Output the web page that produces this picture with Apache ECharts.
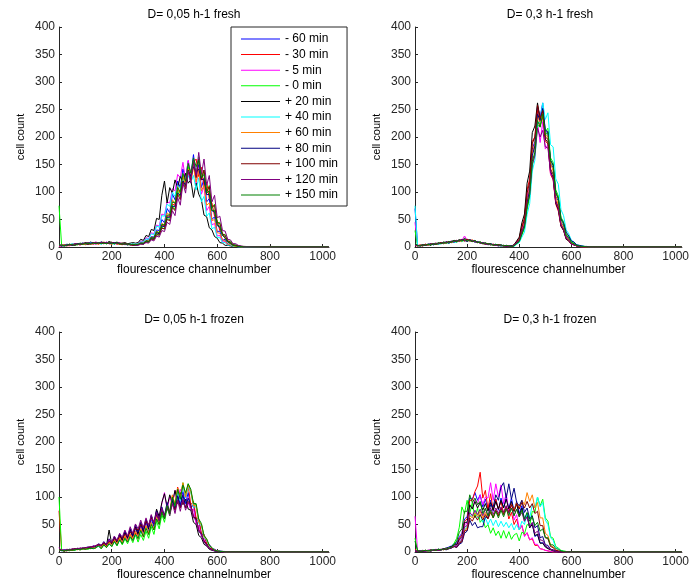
<!DOCTYPE html>
<html>
<head>
<meta charset="utf-8">
<script src="https://cdn.jsdelivr.net/npm/echarts@6/dist/echarts.min.js"></script>
<style>html,body{margin:0;padding:0;background:#fff}#c{width:692px;height:582px}</style>
</head>
<body>
<div id="c"></div>
<script>
// fluorescence channel numbers at which values were read
const channels = [0,10,20,30,40,50,60,70,80,90,100,110,120,130,140,150,160,170,180,190,200,210,220,230,240,250,260,270,280,290,300,310,320,330,340,350,360,370,380,390,400,410,420,430,440,450,460,470,480,490,500,510,520,530,540,550,560,570,580,590,600,610,620,630,640,650,660,670,680,690,700,800,900,1023];

const seriesNames = ['- 60 min','- 30 min','- 5 min','- 0 min','+ 20 min','+ 40 min','+ 60 min','+ 80 min','+ 100 min','+ 120 min','+ 150 min'];
const seriesColors = ['#0000ff','#ff0000','#ff00ff','#00ff00','#000000','#00ffff','#ff8000','#000080','#800000','#800080','#008000'];
const panelTitles = ['D= 0,05 h-1 fresh','D= 0,3 h-1 fresh','D= 0,05 h-1 frozen','D= 0,3 h-1 frozen'];
const yTicks = [0,50,100,150,200,250,300,350,400];
const xTicks = [0,200,400,600,800,1000];

// ---- D = 0,05 h-1 fresh ----
const f005_m60 = [2,3,2,4,3,5,4,5,6,5, 7,6,8,6,7,8,6,7,8,6, 7,6,8,6,5,6,5,4,5,4, 6,9,7,12,13,19,18,31,30,50, 44,70,62,96,86,120,108,142,124,156, 130,168,128,150,108,124,82,88,50,55, 28,29,12,14,5,6,2,3,1,1, 0, 0,0,0];
const f005_m30 = [3,2,4,3,5,4,6,5,4,6, 5,7,6,5,8,7,6,9,7,6, 8,7,5,6,7,5,4,5,3,4, 5,7,6,11,9,17,16,27,24,40, 38,56,56,78,76,104,98,128,118,146, 136,154,160,128,145,110,118,88,80,56, 48,30,25,15,12,7,5,2,2,1, 0, 1,0,0];
const f005_m5 = [1,2,3,2,4,3,4,5,4,6, 5,6,7,6,5,7,8,6,7,9, 6,7,6,5,6,4,5,4,3,4, 7,11,10,17,15,26,24,40,38,60, 58,82,80,106,102,132,126,154,122,158, 132,156,114,144,96,110,66,74,40,43, 20,21,9,10,3,4,1,2,0,1, 0, 0,0,0];
const f005_m0 = [75,3,2,3,4,3,5,4,6,5, 6,5,7,6,7,6,8,7,6,7, 8,6,7,5,6,5,4,5,4,3, 4,6,5,10,8,15,13,24,21,37, 32,54,48,76,68,102,90,126,110,146, 122,158,130,164,124,140,100,112,70,78, 44,45,22,23,10,11,4,4,2,1, 1, 0,0,0];
const f005_p20 = [4,2,3,5,4,3,6,5,7,6, 8,7,9,7,8,6,9,8,7,10, 8,7,9,6,7,8,6,7,8,7, 8,14,12,21,19,32,30,52,50,94, 120,80,108,98,122,108,128,118,134,116, 122,90,116,96,86,58,55,35,31,19, 16,8,7,3,3,2,1,1,0,0, 0, 0,0,0];
const f005_p40 = [3,4,3,5,4,6,5,4,6,7, 5,6,8,7,6,7,5,8,6,7, 6,5,7,6,5,6,4,5,6,5, 6,9,9,15,14,24,22,38,36,57, 56,78,74,100,92,112,106,124,114,130, 118,130,104,126,82,92,56,62,33,36, 17,17,8,8,3,4,1,1,0,0, 0, 0,0,0];
const f005_p60 = [2,3,4,3,2,4,5,4,5,6, 4,6,5,7,6,5,7,6,8,6, 5,7,6,5,4,6,5,4,5,4, 5,7,7,12,11,18,17,29,26,43, 40,62,58,86,78,110,96,130,112,142, 118,146,118,140,102,112,76,80,48,50, 26,25,13,11,5,5,2,1,1,0, 0, 0,0,0];
const f005_p80 = [3,2,3,4,5,3,4,6,5,7, 6,5,7,8,6,7,9,7,8,6, 7,8,6,7,5,6,4,5,4,3, 4,7,6,11,10,16,16,26,24,38, 37,54,54,74,74,98,94,120,112,140, 128,146,136,142,122,124,95,96,66,64, 39,36,21,17,9,7,3,3,1,1, 0, 0,0,0];
const f005_p100 = [2,4,3,2,4,5,3,5,4,6, 7,5,6,8,7,6,7,8,6,7, 9,6,7,6,5,7,5,4,3,4, 4,6,5,9,9,14,14,22,22,34, 33,50,48,72,66,96,86,118,106,140, 122,156,126,160,122,140,100,110,72,76, 44,43,24,21,11,9,4,3,2,1, 1, 0,0,0];
const f005_p120 = [3,3,2,4,3,4,6,5,5,7, 6,8,6,7,9,7,8,6,9,7, 8,6,7,8,6,5,6,4,5,3, 3,5,5,8,7,13,11,20,18,30, 28,45,41,66,57,90,76,116,98,138, 116,158,130,172,132,160,112,130,82,94, 53,56,30,29,14,13,6,6,3,2, 1, 0,0,0];
const f005_p150 = [4,3,2,3,5,4,3,5,6,5, 6,7,5,7,6,8,6,7,6,8, 7,6,8,5,6,5,6,4,5,4, 5,7,7,11,10,17,16,28,26,41, 40,58,58,82,80,108,100,134,120,152, 134,162,146,158,126,132,98,102,66,67, 40,38,21,17,9,7,3,2,1,1, 0, 0,0,0];

// ---- D = 0,3 h-1 fresh ----
const f03_m60 = [70,3,2,4,3,5,4,6,5,7, 6,8,7,10,8,11,9,12,10,14, 11,13,10,12,8,9,6,7,4,6, 3,5,2,4,2,3,1,2, 3,8,11,31,41,88,110,178,192,255, 236,262,210,208,152,144,92,84,45,39, 20,15,7,6,3,2,1,1,0,0, 0,0,0, 0,0,0];
const f03_m30 = [4,2,3,2,5,3,6,4,7,5, 8,6,9,7,10,9,12,10,13,11, 14,10,12,9,10,7,8,5,6,4, 5,3,4,2,3,2,2,1, 4,10,16,38,53,104,124,192,200,248, 220,236,192,188,132,122,78,65,38,30, 15,11,5,4,2,1,1,0,0,0, 0,0,0, 0,0,0];
const f03_m5 = [45,3,4,3,4,5,4,6,5,7, 6,7,9,8,10,9,11,13,12,20, 13,11,12,10,9,8,6,7,5,4, 5,3,4,3,2,3,2,1, 3,9,13,33,45,92,108,172,180,226, 190,228,178,186,132,128,80,74,40,33, 16,13,5,5,2,1,0,0,0,0, 0,0,0, 0,0,0];
const f03_m0 = [30,2,3,4,3,5,4,5,6,5, 7,6,8,7,9,10,9,11,10,12, 11,12,10,11,8,9,7,6,5,4, 4,3,3,2,3,2,1,2, 2,6,9,22,34,68,92,148,170,222, 218,246,210,216,162,154,104,93,54,46, 24,19,9,7,3,2,1,1,0,0, 0,0,0, 0,0,0];
const f03_p20 = [5,2,3,2,4,5,3,6,5,6, 8,7,9,8,10,12,11,13,11,16, 12,13,11,10,9,8,7,6,6,5, 4,3,4,3,2,2,1,2, 4,11,18,44,60,116,138,208,220,262, 232,248,196,190,138,126,80,68,38,30, 14,11,5,4,2,1,0,0,0,0, 0,0,0, 0,0,0];
const f03_p40 = [75,2,3,3,4,3,5,4,6,5, 6,7,8,7,9,8,10,11,10,13, 12,11,12,9,10,8,7,5,6,4, 4,3,3,2,2,2,1,1, 1,5,8,18,27,59,79,138,158,226, 226,262,232,244,186,182,124,114,68,57, 31,24,12,9,4,3,2,1,1,0, 0,0,0, 0,0,0];
const f03_p60 = [3,2,4,3,4,3,5,6,5,7, 6,8,7,9,8,10,12,10,11,13, 12,11,13,10,9,8,6,7,5,5, 3,4,3,3,2,2,2,1, 2,7,12,28,43,83,108,170,190,238, 228,244,204,200,152,138,92,76,45,34, 19,13,6,5,2,1,0,0,0,0, 0,0,0, 0,0,0];
const f03_p80 = [4,3,2,4,3,5,6,4,6,7, 6,8,9,7,10,9,12,11,14,12, 10,13,11,9,10,7,8,6,5,6, 4,4,3,2,3,1,2,2, 2,7,11,27,40,80,103,166,184,242, 230,252,212,210,158,150,100,88,52,44, 27,20,11,9,4,3,2,1,1,0, 0,0,0, 0,0,0];
const f03_p100 = [2,3,2,3,5,4,5,6,5,6, 8,7,8,10,9,11,10,12,13,11, 14,12,10,11,8,9,6,5,6,4, 5,3,4,3,2,2,1,1, 3,9,14,35,50,98,118,188,200,258, 234,248,200,196,142,132,84,72,40,32, 16,12,5,4,2,1,0,0,0,0, 0,0,0, 0,0,0];
const f03_p120 = [3,2,3,4,3,4,5,6,7,6, 7,9,8,9,11,10,12,11,13,12, 11,13,12,10,9,7,8,6,4,5, 4,3,2,3,2,2,1,1, 3,8,11,26,38,76,96,150,166,216, 200,212,182,180,136,124,82,70,40,32, 16,12,5,4,2,1,0,0,0,0, 0,0,0, 0,0,0];
const f03_p150 = [6,3,2,4,3,5,4,6,5,8, 6,9,7,10,9,12,10,13,11,14, 11,13,10,12,8,9,6,8,5,6, 3,5,3,4,2,3,2,1, 2,6,10,23,36,72,95,156,172,230, 218,242,204,208,156,148,98,88,50,42, 21,17,8,6,3,2,1,1,0,0, 0,0,0, 0,0,0];

// ---- D = 0,05 h-1 frozen ----
const z005_m60 = [5,3,2,4,3,5,4,6,5,7, 6,8,7,10,9,14,9,17,12,21, 14,25,17,30,20,34,23,38,26,43, 30,48,34,54,38,60,46,68,54,76, 62,84,70,96,78,104,86,110,88,108, 80,86,58,58,32,32,14,14,6,5, 2,2,1,1,0,0,0,0,0,0, 0, 0,0,0];
const z005_m30 = [75,2,3,2,4,3,4,5,4,6, 5,7,6,8,7,12,7,14,9,18, 11,21,13,25,15,28,18,33,21,35, 23,40,27,46,32,52,40,62,50,74, 60,86,72,102,86,118,98,124,100,120, 86,92,62,60,34,32,15,13,5,4, 2,1,1,0,0,0,0,0,0,0, 0, 0,0,0];
const z005_m5 = [8,2,4,3,5,4,6,5,7,6, 8,7,9,11,10,15,10,18,13,22, 15,27,18,31,21,36,24,40,28,46, 32,50,36,56,42,62,52,76,64,88, 108,78,100,86,112,98,114,100,108,90, 76,78,50,48,28,24,11,10,4,3, 2,1,0,0,0,0,0,0,0,0, 0, 0,0,0];
const z005_m0 = [100,3,2,3,2,4,3,5,4,5, 6,5,7,6,8,11,6,13,8,15, 10,19,11,22,13,24,15,27,17,31, 18,32,21,38,25,46,32,56,42,68, 54,80,66,98,80,114,96,126,102,124, 110,88,86,56,50,28,22,11,8,3, 2,1,1,0,0,0,0,0,0,0, 0, 0,0,0];
const z005_p20 = [6,3,2,4,3,5,4,6,5,7, 6,8,7,10,9,14,9,16,11,40, 15,27,18,32,21,36,25,41,28,46, 32,52,37,58,42,66,52,78,64,90, 106,82,104,90,112,88,108,86,96,78, 76,54,50,30,26,14,11,5,3,2, 1,1,0,0,0,0,0,0,0,0, 0, 0,0,0];
const z005_p40 = [4,2,3,4,3,5,4,5,6,5, 7,6,8,7,9,10,9,12,10,14, 12,17,14,20,17,24,19,27,22,31, 25,37,30,44,36,52,42,62,52,74, 62,86,74,100,84,110,94,120,98,118, 108,82,82,52,48,26,22,10,8,3, 2,1,1,0,0,0,0,0,0,0, 0, 0,0,0];
const z005_p60 = [3,4,2,3,4,3,5,4,6,5, 7,6,8,9,8,13,8,15,10,18, 12,22,15,26,17,30,20,33,24,38, 27,43,30,48,35,54,42,64,52,76, 64,88,74,104,86,116,98,126,100,122, 110,84,84,54,50,28,23,11,8,3, 2,1,1,0,0,0,0,0,0,0, 0, 0,0,0];
const z005_p80 = [4,3,4,2,5,4,6,5,7,6, 8,9,8,11,10,15,12,19,13,24, 17,28,20,33,24,38,27,43,30,50, 36,54,40,60,45,66,50,74,58,82, 66,90,70,98,76,102,82,104,80,98, 84,64,60,38,32,18,13,7,4,2, 1,1,0,0,0,0,0,0,0,0, 0, 0,0,0];
const z005_p100 = [5,3,2,4,3,5,6,5,7,6, 8,7,10,9,12,13,12,15,14,19, 17,24,21,28,25,32,29,36,34,43, 40,50,45,56,50,62,54,68,60,74, 66,80,70,88,76,94,80,94,80,92, 86,64,62,40,34,20,15,7,5,3, 1,1,0,0,0,0,0,0,0,0, 0, 0,0,0];
const z005_p120 = [6,4,3,5,4,6,5,7,6,8, 7,9,10,9,12,13,12,18,13,23, 18,29,21,34,27,40,29,46,34,51, 42,58,44,62,48,68,52,72,56,80, 62,84,66,88,70,94,74,96,76,90, 82,62,58,38,32,18,13,6,4,2, 1,1,0,0,0,0,0,0,0,0, 0, 0,0,0];
const z005_p150 = [4,3,2,3,4,3,4,5,4,6, 5,6,7,6,8,11,6,13,8,15, 10,19,12,22,15,25,18,28,21,32, 25,39,28,43,32,50,40,60,50,72, 60,84,70,100,84,114,96,122,108,124, 114,88,88,60,52,30,24,12,8,3, 2,1,1,0,0,0,0,0,0,0, 0, 0,0,0];

// ---- D = 0,3 h-1 frozen ----
const z03_m60 = [0,2,1,2,3,2,3,4,3,5, 4,6,7,9,11,15,16,28,34,60, 64,98,96,108,94,104,82,96,78,94, 74,96,76,98,80,100,78,98,74,92, 70,84,60,70,44,52,28,32,16,17, 10,7,5,3,2,1,1,0,0,0, 0,0,0,0,0,0,0,0,0,0, 0, 0,0,0];
const z03_m30 = [5,1,2,3,2,3,2,4,3,4, 5,4,6,7,9,13,13,25,31,56, 60,94,94,110,120,145,98,112,78,106, 76,96,78,92,70,84,60,72,50,60, 40,48,30,35,22,24,12,12,6,5, 3,2,1,0,0,0,0,0,0,0, 0,0,0,0,0,0,0,0,0,0, 0, 0,0,0];
const z03_m5 = [65,2,1,3,2,3,4,3,5,4, 5,6,5,7,9,12,12,21,26,50, 52,84,80,96,88,104,86,100,98,126, 94,124,100,122,88,106,74,88,58,68, 42,48,28,35,22,26,14,14,6,5, 3,2,1,0,0,0,0,0,0,0, 0,0,0,0,0,0,0,0,0,0, 0, 0,0,0];
const z03_m0 = [25,1,2,1,3,2,2,3,4,3, 4,5,6,7,8,16,25,45,82,70, 94,70,90,62,80,54,60,44,50,34, 44,30,38,25,39,25,37,23,31,34, 20,36,33,50,48,74,72,100,84,96, 62,56,28,25,10,7,3,2,1,0, 0,0,0,0,0,0,0,0,0,0, 0, 0,0,0];
const z03_p20 = [3,1,2,2,3,2,4,3,4,5, 4,6,7,8,10,13,13,23,28,54, 54,86,78,92,80,90,76,88,74,90, 76,92,78,94,80,96,78,92,74,88, 66,80,56,66,44,50,30,32,16,16, 9,6,4,2,1,0,0,0,0,0, 0,0,0,0,0,0,0,0,0,0, 0, 0,0,0];
const z03_p40 = [2,1,2,3,2,3,2,4,3,4, 5,4,6,7,8,11,10,17,22,42, 46,68,64,74,62,68,54,62,50,60, 48,58,46,56,46,54,44,52,40,50, 40,56,50,70,62,86,80,100,82,90, 58,50,26,21,8,6,2,1,0,0, 0,0,0,0,0,0,0,0,0,0, 0, 0,0,0];
const z03_p60 = [1,2,1,2,3,2,3,3,4,3, 5,4,6,7,8,10,9,16,21,40, 44,66,62,72,64,74,62,72,62,74, 64,76,66,80,70,82,72,86,76,90, 80,94,86,108,92,104,80,90,62,62, 34,30,12,9,3,2,1,0,0,0, 0,0,0,0,0,0,0,0,0,0, 0, 0,0,0];
const z03_p80 = [2,1,2,1,2,3,2,3,4,3, 4,5,4,6,7,10,8,14,17,34, 38,58,48,54,44,46,46,64,62,86, 82,104,94,118,126,98,124,96,116,90, 84,94,72,80,60,66,44,48,26,28, 13,12,5,4,2,1,0,0,0,0, 0,0,0,0,0,0,0,0,0,0, 0, 0,0,0];
const z03_p100 = [1,2,1,2,2,3,2,3,3,4, 4,5,5,6,8,10,9,16,19,38, 40,62,56,66,58,68,58,68,60,72, 62,76,66,80,68,82,72,86,74,88, 78,90,80,92,80,88,70,74,48,48, 26,24,10,8,3,2,1,0,0,0, 0,0,0,0,0,0,0,0,0,0, 0, 0,0,0];
const z03_p120 = [2,1,2,2,1,3,2,3,4,3, 4,5,6,6,8,11,10,18,22,46, 48,72,66,76,68,78,66,78,66,80, 68,80,70,82,72,84,70,80,66,78, 64,72,56,64,46,54,34,38,22,21, 12,8,5,3,1,0,0,0,0,0, 0,0,0,0,0,0,0,0,0,0, 0, 0,0,0];
const z03_p150 = [20,2,1,2,3,2,3,4,3,5, 4,6,5,7,9,13,20,36,42,74, 74,104,90,98,86,92,70,80,66,76, 62,74,62,76,64,78,66,80,66,78, 64,76,60,72,56,64,48,54,38,42, 26,26,13,13,6,5,2,1,0,0, 0,0,0,0,0,0,0,0,0,0, 0, 0,0,0];

const panel1 = [f005_m60,f005_m30,f005_m5,f005_m0,f005_p20,f005_p40,f005_p60,f005_p80,f005_p100,f005_p120,f005_p150];
const panel2 = [f03_m60,f03_m30,f03_m5,f03_m0,f03_p20,f03_p40,f03_p60,f03_p80,f03_p100,f03_p120,f03_p150];
const panel3 = [z005_m60,z005_m30,z005_m5,z005_m0,z005_p20,z005_p40,z005_p60,z005_p80,z005_p100,z005_p120,z005_p150];
const panel4 = [z03_m60,z03_m30,z03_m5,z03_m0,z03_p20,z03_p40,z03_p60,z03_p80,z03_p100,z03_p120,z03_p150];
const panels = [panel1, panel2, panel3, panel4];

// ---- layout ----
const FONT = 'Liberation Sans, Arial, sans-serif';
const AX = '#262626';
const grids = [
  {left: 59, top: 27, width: 270, height: 220},
  {left: 415, top: 27, width: 270, height: 220},
  {left: 59, top: 332, width: 270, height: 220},
  {left: 415, top: 332, width: 270, height: 220}
];
const titleTops = [9, 9, 314, 314];

panels.forEach((p, pi) => p.forEach((arr, si) => {
  if (arr.length !== channels.length) console.error('length mismatch panel', pi, 'series', si, arr.length);
}));

const LEGEND_LINE = 'path://M0,0 L0,0 M0,14 L0,14 M0,6.5 L39,6.5 L39,7.5 L0,7.5 Z';

const option = {
  animation: false,
  backgroundColor: '#ffffff',
  textStyle: {fontFamily: FONT},
  title: panelTitles.map((t, i) => ({
    text: t,
    left: grids[i].left + grids[i].width / 2,
    top: titleTops[i],
    textAlign: 'center',
    padding: 0,
    textStyle: {fontSize: 12, fontWeight: 'normal', color: '#000', fontFamily: FONT}
  })),
  legend: {
    data: seriesNames.map(n => ({name: n, icon: LEGEND_LINE})),
    orient: 'vertical',
    left: 231, top: 27,
    itemWidth: 39, itemHeight: 14, itemGap: 1.6,
    padding: [5, 9, 4, 10],
    borderColor: AX, borderWidth: 1,
    backgroundColor: '#fff',
    selectedMode: false,
    itemStyle: {borderWidth: 0},
    textStyle: {fontSize: 12, color: '#000', fontFamily: FONT, lineHeight: 14}
  },
  grid: grids,
  xAxis: grids.map((g, i) => ({
    type: 'value', gridIndex: i, min: 0, max: 1024, interval: 200,
    name: 'flourescence channelnumber', nameLocation: 'middle', nameGap: 16,
    nameTextStyle: {fontSize: 12, color: '#000', fontFamily: FONT},
    axisLine: {show: true, onZero: false, lineStyle: {color: AX, width: 1}},
    axisTick: {show: true, inside: true, length: 3, lineStyle: {color: AX}},
    axisLabel: {fontSize: 12, color: AX, margin: 4, showMaxLabel: false,
      formatter: v => (xTicks.indexOf(v) >= 0 ? String(v) : '')},
    splitLine: {show: false}
  })),
  yAxis: grids.map((g, i) => ({
    type: 'value', gridIndex: i, min: 0, max: 400, interval: 50,
    name: 'cell count', nameLocation: 'middle', nameGap: 33,
    nameTextStyle: {fontSize: 11, color: '#000', fontFamily: FONT},
    axisLine: {show: true, onZero: false, lineStyle: {color: AX, width: 1}},
    axisTick: {show: true, inside: true, length: 3, lineStyle: {color: AX}},
    axisLabel: {fontSize: 12, color: AX, margin: 4,
      formatter: v => (yTicks.indexOf(v) >= 0 ? String(v) : '')},
    splitLine: {show: false}
  })),
  series: []
};

panels.forEach((p, pi) => {
  p.forEach((vals, si) => {
    option.series.push({
      type: 'line',
      name: seriesNames[si],
      xAxisIndex: pi, yAxisIndex: pi,
      data: channels.map((c, k) => [c, vals[k]]),
      symbol: 'none',
      silent: true,
      lineStyle: {width: 1, color: seriesColors[si]},
      itemStyle: {color: seriesColors[si]},
      emphasis: {disabled: true}
    });
  });
});

const chart = echarts.init(document.getElementById('c'), null, {renderer: 'canvas'});
chart.setOption(option);
</script>
</body>
</html>
